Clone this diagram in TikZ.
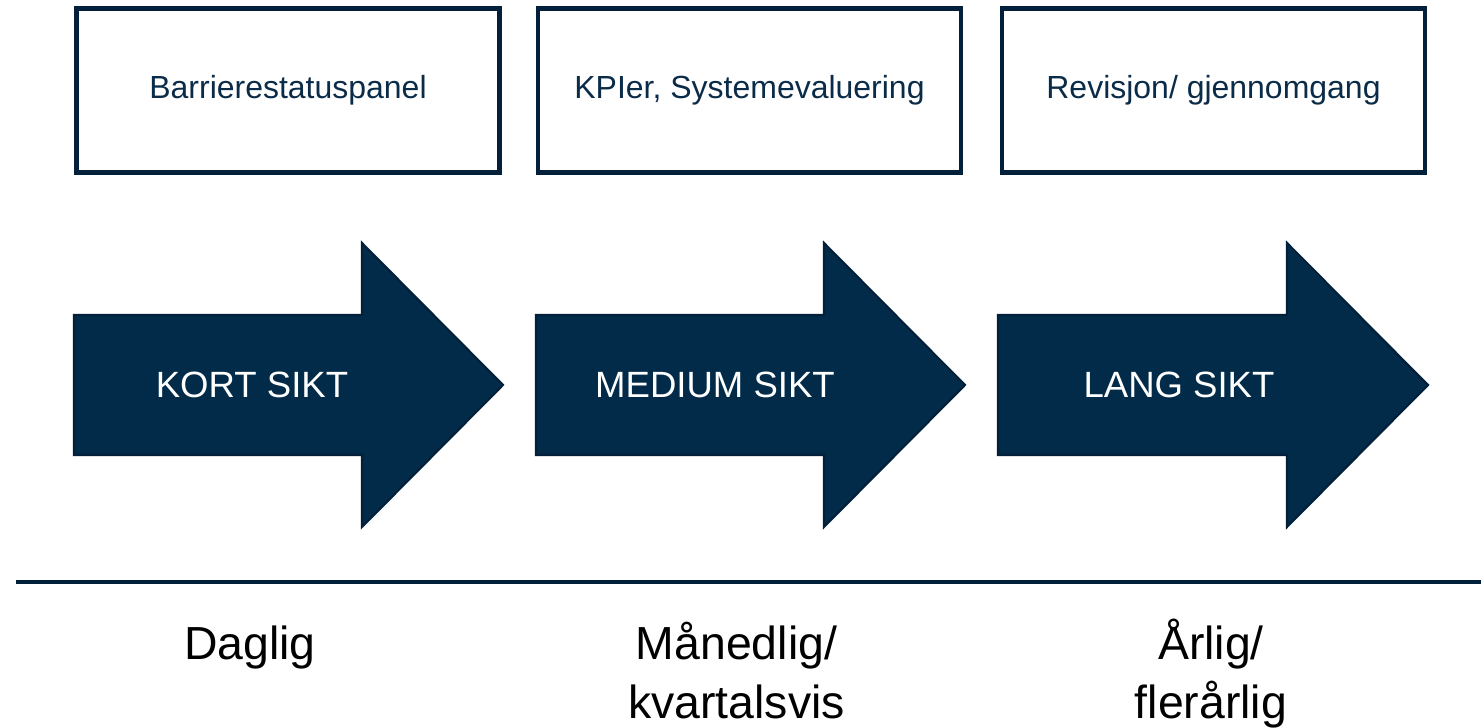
\documentclass[tikz,border=0pt]{standalone}
\usepackage{fontspec}
\setmainfont{Liberation Sans}
\definecolor{navyfill}{HTML}{012B49}
\definecolor{navyline}{HTML}{02203A}
\definecolor{boxtext}{HTML}{0B2C48}

\begin{document}
\begin{tikzpicture}[
        box/.style = {draw=navyline, line width=1.4pt, minimum width=4.23cm,
                      minimum height=1.64cm, text=boxtext,
                      font=\fontsize{9.1}{11}\selectfont},
        bigarrow/.style = {fill=navyfill, draw=navyline, line width=0.6pt},
        arrowtext/.style = {text=white, font=\fontsize{10.4}{12}\selectfont},
        freq/.style = {align=center, font=\fontsize{13.2}{16.8}\selectfont}]

    \useasboundingbox (0,0) rectangle (14.81,7.28);

    % Boxes on top
    \node[box] (panel) at (2.88,6.375) {Barrierestatuspanel};
    \node[box] (kpi) at (7.495,6.375) {KPIer, Systemevaluering};
    \node[box] (revisjon) at (12.135,6.375) {Revisjon/ gjennomgang};

    % Arrows
    \draw[bigarrow] (0.74,2.73) -- (0.74,4.13) -- (3.62,4.13) -- (3.62,4.85)
        -- (5.03,3.43) -- (3.62,2.01) -- (3.62,2.73) -- cycle;
    \draw[bigarrow] (5.36,2.73) -- (5.36,4.13) -- (8.24,4.13) -- (8.24,4.85)
        -- (9.65,3.43) -- (8.24,2.01) -- (8.24,2.73) -- cycle;
    \draw[bigarrow] (9.98,2.73) -- (9.98,4.13) -- (12.87,4.13) -- (12.87,4.85)
        -- (14.28,3.43) -- (12.87,2.01) -- (12.87,2.73) -- cycle;

    % Arrow labels
    \node[arrowtext] (kort) at (2.52,3.43) {KORT SIKT};
    \node[arrowtext] (medium) at (7.15,3.43) {MEDIUM SIKT};
    \node[arrowtext] (lang) at (11.79,3.43) {LANG SIKT};

    % Separator line
    \draw[navyline, line width=1pt] (0.16,1.46) -- (14.81,1.46);

    % Frequency text (base anchor = last line)
    \node[freq, anchor=base] (daglig) at (2.50,0.68) {Daglig};
    \node[freq, anchor=base] (maanedlig) at (7.365,0.09) {Månedlig/\\kvartalsvis};
    \node[freq, anchor=base] (aarlig) at (12.11,0.09) {Årlig/\\flerårlig};

\end{tikzpicture}
\end{document}
